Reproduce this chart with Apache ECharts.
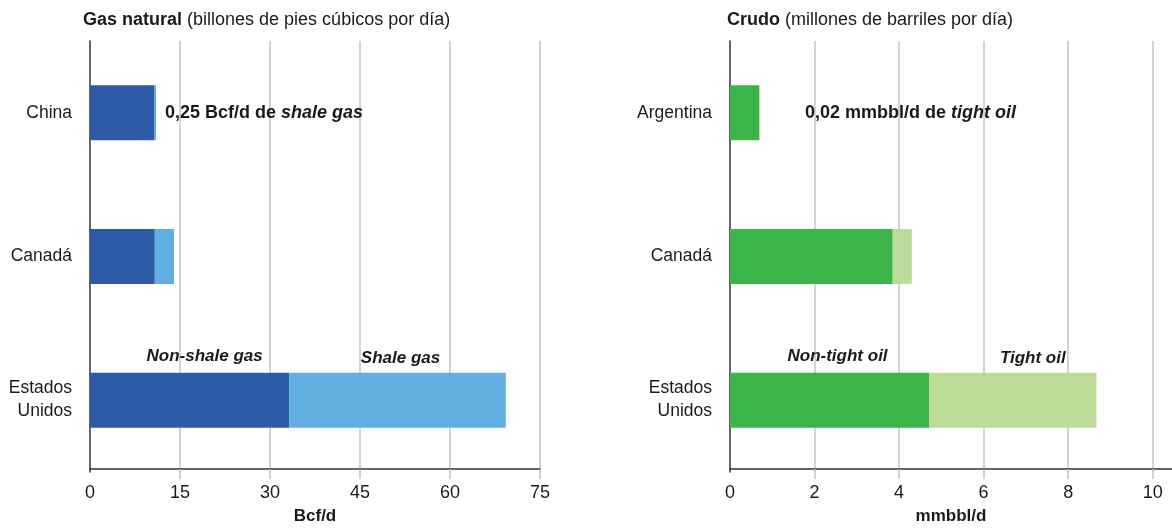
<!DOCTYPE html>
<html>
<head>
<meta charset="utf-8">
<script src="https://cdn.jsdelivr.net/npm/echarts@6/dist/echarts.min.js"></script>
<style>
  html, body { margin: 0; padding: 0; background: #fff; }
  #chart { width: 1172px; height: 530px; }
</style>
</head>
<body>
<div id="chart"></div>
<script>
// Natural gas production (Bcf/d)
const gasCountries = ['China', 'Canadá', 'Estados\nUnidos'];
const gasNonShale = [10.75, 10.8, 33.2];
const gasShale = [0.25, 3.2, 36.1];
const gasTicks = [0, 15, 30, 45, 60, 75];

// Crude oil production (mmbbl/d)
const oilCountries = ['Argentina', 'Canadá', 'Estados\nUnidos'];
const oilNonTight = [0.69, 3.85, 4.71];
const oilTight = [0.02, 0.45, 3.96];
const oilTicks = [0, 2, 4, 6, 8, 10];

const FONT = 'Liberation Sans';
const TEXT = '#1a1a1a';
const GRID = '#c4c4c4';
const AXIS = '#333333';

const fmtComma = v => v.toFixed(2).replace('.', ',');

const richLabel = {
  b: { fontFamily: FONT, fontSize: 18, fontWeight: 'bold', color: TEXT },
  bi: { fontFamily: FONT, fontSize: 18, fontWeight: 'bold', fontStyle: 'italic', color: TEXT },
  si: { fontFamily: FONT, fontSize: 17, fontWeight: 'bold', fontStyle: 'italic', color: TEXT }
};

function catAxis(gridIndex, data) {
  return {
    type: 'category', gridIndex, data, inverse: true,
    axisLine: { show: true, lineStyle: { color: AXIS, width: 1.5 } },
    axisTick: { show: false },
    axisLabel: { fontFamily: FONT, fontSize: 17.5, color: TEXT, margin: 18, lineHeight: 23, align: 'right' }
  };
}

function valAxis(gridIndex, max, interval, ticks, name) {
  return {
    type: 'value', gridIndex, min: 0, max, interval, offset: -3,
    name, nameLocation: 'middle', nameGap: 39,
    nameTextStyle: { fontFamily: FONT, fontSize: 17, fontWeight: 'bold', color: TEXT },
    axisLine: { show: true, lineStyle: { color: AXIS, width: 1.5 } },
    axisTick: { show: true, length: 10, lineStyle: { color: GRID, width: 1.5 }, customValues: ticks.slice(1) },
    axisLabel: { fontFamily: FONT, fontSize: 18, color: TEXT, margin: 15, customValues: ticks },
    splitLine: { show: true, lineStyle: { color: GRID, width: 1.5 } }
  };
}

function barLabelTop(text, offset) {
  return {
    show: true, position: 'top', distance: 8, offset,
    formatter: () => '{si|' + text + '}', rich: richLabel
  };
}

const titleRich = {
  b: { fontFamily: FONT, fontSize: 18, fontWeight: 'bold', color: TEXT },
  r: { fontFamily: FONT, fontSize: 18, fontWeight: 'normal', color: TEXT }
};

const option = {
  animation: false,
  backgroundColor: '#ffffff',
  title: [
    {
      left: 83, top: 11, padding: 0,
      text: '{b|Gas natural} {r|(billones de pies cúbicos por día)}',
      textStyle: { fontWeight: 'normal', rich: titleRich }
    },
    {
      left: 727, top: 11, padding: 0,
      text: '{b|Crudo} {r|(millones de barriles por día)}',
      textStyle: { fontWeight: 'normal', rich: titleRich }
    }
  ],
  grid: [
    { left: 90, top: 41, width: 450, height: 435 },
    { left: 730, top: 41, width: 442, height: 435 }
  ],
  xAxis: [
    valAxis(0, 75, 15, gasTicks, 'Bcf/d'),
    valAxis(1, 10.457, 2, oilTicks, 'mmbbl/d')
  ],
  yAxis: [catAxis(0, gasCountries), catAxis(1, oilCountries)],
  series: [
    {
      type: 'bar', name: 'Non-shale gas', xAxisIndex: 0, yAxisIndex: 0, stack: 'gas',
      barWidth: 55, itemStyle: { color: '#2e5ba8' },
      data: gasNonShale.map((v, i) => i === 2 ? { value: v, label: barLabelTop('Non-shale gas', [15, 0]) } : v)
    },
    {
      type: 'bar', name: 'Shale gas', xAxisIndex: 0, yAxisIndex: 0, stack: 'gas',
      barWidth: 55, itemStyle: { color: '#62aee0' },
      data: gasShale.map((v, i) => {
        if (i === 0) return {
          value: v,
          label: {
            show: true, position: 'right', distance: 9,
            formatter: p => '{b|' + fmtComma(p.value) + ' Bcf/d de }{bi|shale gas}', rich: richLabel
          }
        };
        if (i === 2) return { value: v, label: barLabelTop('Shale gas', [3, 2]) };
        return v;
      })
    },
    {
      type: 'bar', name: 'Non-tight oil', xAxisIndex: 1, yAxisIndex: 1, stack: 'oil',
      barWidth: 55, itemStyle: { color: '#3bb54a' },
      data: oilNonTight.map((v, i) => i === 2 ? { value: v, label: barLabelTop('Non-tight oil', [8, 0]) } : v)
    },
    {
      type: 'bar', name: 'Tight oil', xAxisIndex: 1, yAxisIndex: 1, stack: 'oil',
      barWidth: 55, itemStyle: { color: '#bddb98' },
      data: oilTight.map((v, i) => {
        if (i === 0) return {
          value: v,
          label: {
            show: true, position: 'right', distance: 45,
            formatter: p => '{b|' + fmtComma(p.value) + ' mmbbl/d de }{bi|tight oil}', rich: richLabel
          }
        };
        if (i === 2) return { value: v, label: barLabelTop('Tight oil', [20, 2]) };
        return v;
      })
    }
  ]
};

const chart = echarts.init(document.getElementById('chart'), null, { renderer: 'canvas' });
chart.setOption(option);
</script>
</body>
</html>
